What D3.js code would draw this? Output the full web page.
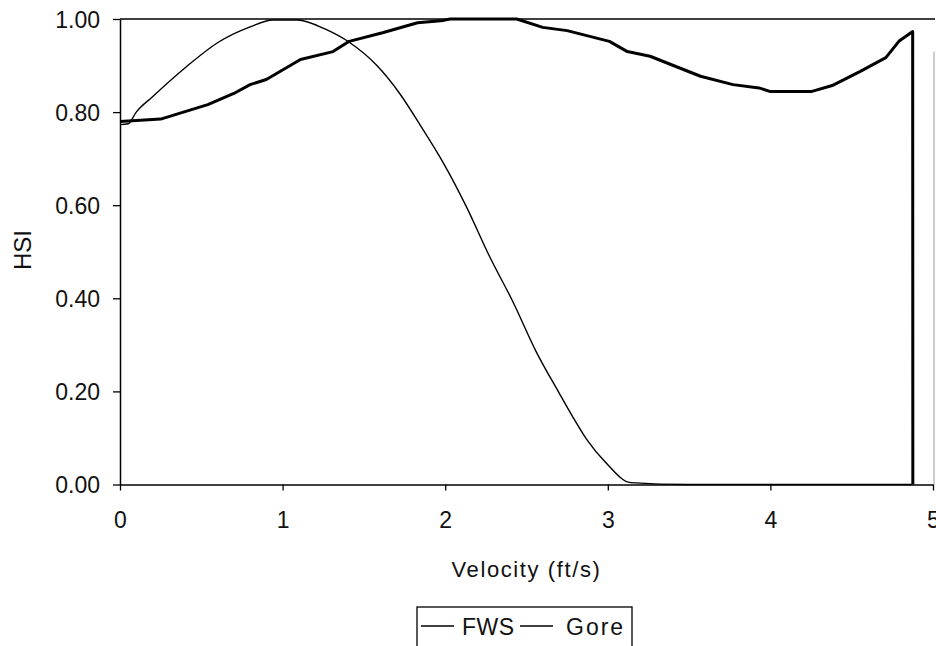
<!DOCTYPE html>
<html>
<head>
<meta charset="utf-8">
<script src="https://cdn.jsdelivr.net/npm/d3@7"></script>
<style>
  html, body { margin: 0; padding: 0; background: #fff; }
  svg { display: block; font-family: "Liberation Sans", Arial, sans-serif; }
</style>
</head>
<body>
<svg id="chart" width="936" height="646"></svg>
<script>
// ---- data ----
const seriesNames = ["FWS", "Gore"];
const xTicks = [0, 1, 2, 3, 4, 5];
const yTicks = [0, 0.2, 0.4, 0.6, 0.8, 1.0];

const fwsX = [0, 0.25, 0.54, 0.70, 0.80, 0.90, 1.11, 1.31, 1.41, 1.62, 1.83, 1.99, 2.03, 2.44, 2.60, 2.75, 3.01, 3.12, 3.26, 3.57, 3.77, 3.93, 4.00, 4.25, 4.38, 4.55, 4.71, 4.79, 4.875, 4.876];
const fwsY = [0.78, 0.785, 0.816, 0.84, 0.859, 0.87, 0.913, 0.93, 0.952, 0.971, 0.992, 0.997, 1.0, 1.0, 0.982, 0.975, 0.952, 0.93, 0.92, 0.877, 0.859, 0.852, 0.844, 0.844, 0.857, 0.887, 0.917, 0.952, 0.973, 0.0];

const goreX = [0, 0.05, 0.10, 0.20, 0.41, 0.60, 0.80, 0.94, 1.09, 1.27, 1.41, 1.58, 1.72, 1.85, 1.99, 2.13, 2.27, 2.42, 2.56, 2.70, 2.78, 2.87, 2.99, 3.14, 3.5, 4.0, 4.5, 4.87];
const goreY = [0.773, 0.775, 0.80, 0.833, 0.898, 0.949, 0.983, 0.998, 0.998, 0.977, 0.950, 0.900, 0.840, 0.770, 0.690, 0.597, 0.492, 0.390, 0.285, 0.197, 0.148, 0.097, 0.046, 0.004, 0, 0, 0, 0];

// ---- chart ----
const svg = d3.select("#chart");
const x = d3.scaleLinear().domain([0, 5]).range([120, 933]);
const y = d3.scaleLinear().domain([0, 1]).range([484.5, 19]);
const font = "23px";

// plot frame (top and right edges)
svg.append("line").attr("x1", x(0)).attr("x2", x(5) + 2).attr("y1", y(1)).attr("y2", y(1))
  .attr("stroke", "#000").attr("stroke-width", 1.3);
svg.append("line").attr("x1", x(5) + 1).attr("x2", x(5) + 1).attr("y1", y(0.93)).attr("y2", y(0))
  .attr("stroke", "#999").attr("stroke-width", 1);

// axes
const yAxis = svg.append("g").attr("transform", `translate(${x(0)},0)`)
  .call(d3.axisLeft(y).tickValues(yTicks).tickFormat(d3.format(".2f")).tickSize(7).tickSizeOuter(0).tickPadding(13));
const xAxis = svg.append("g").attr("transform", `translate(0,${y(0)})`)
  .call(d3.axisBottom(x).tickValues(xTicks).tickFormat(d3.format("d")).tickSize(6).tickSizeOuter(0).tickPadding(21));
[yAxis, xAxis].forEach(a => {
  a.select(".domain").attr("stroke", "#000").attr("stroke-width", 1.5);
  a.selectAll(".tick line").attr("stroke", "#000").attr("stroke-width", 1.3);
  a.selectAll(".tick text").attr("fill", "#111").style("font-size", font)
    .style("font-family", '"Liberation Sans", Arial, sans-serif');
});
yAxis.selectAll(".tick text").attr("dy", "0.36em");

// lines
const lineFws = d3.line().x(d => x(d[0])).y(d => y(d[1])).curve(d3.curveLinear);
const lineGore = d3.line().x(d => x(d[0])).y(d => y(d[1])).curve(d3.curveMonotoneX);
const fwsData = fwsX.map((v, i) => [v, fwsY[i]]);
const goreData = goreX.map((v, i) => [v, goreY[i]]);

svg.append("path").datum(goreData).attr("d", lineGore)
  .attr("fill", "none").attr("stroke", "#000").attr("stroke-width", 1.4);
svg.append("path").datum(fwsData).attr("d", lineFws)
  .attr("fill", "none").attr("stroke", "#000").attr("stroke-width", 3).attr("stroke-linejoin", "round");

// axis titles
svg.append("text").attr("x", (x(0) + x(5)) / 2).attr("y", 577)
  .attr("text-anchor", "middle").style("font-size", "22px").style("letter-spacing", "1.6px")
  .attr("fill", "#111").text("Velocity (ft/s)");
svg.append("text").attr("transform", `translate(31,250) rotate(-90)`)
  .attr("text-anchor", "middle").style("font-size", "24px").attr("fill", "#111").text("HSI");

// legend
const lg = svg.append("g");
lg.append("rect").attr("x", 417).attr("y", 607).attr("width", 215).attr("height", 60)
  .attr("fill", "#fff").attr("stroke", "#000").attr("stroke-width", 1.3);
const legendX = [421, 520];
const textX = [462, 566];
seriesNames.forEach((name, i) => {
  lg.append("line").attr("x1", legendX[i]).attr("x2", legendX[i] + 33).attr("y1", 626).attr("y2", 626)
    .attr("stroke", "#000").attr("stroke-width", 1.6);
  lg.append("text").attr("x", textX[i]).attr("y", 635).style("font-size", "23px")
    .style("letter-spacing", i === 0 ? "0.5px" : "2px").attr("fill", "#111").text(name);
});
</script>
</body>
</html>
